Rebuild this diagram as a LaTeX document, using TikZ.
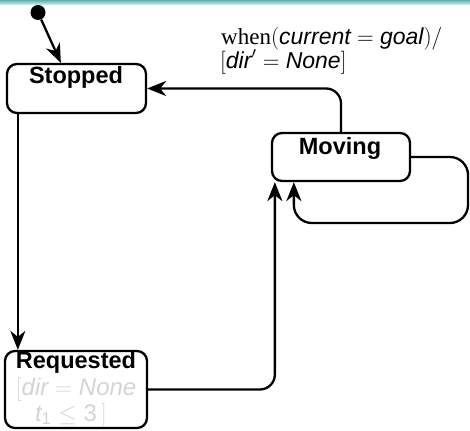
\documentclass[tikz,border=0pt]{standalone}
\usepackage{fix-cm}
\usepackage{amsmath}
\usepackage{fontspec}
\setmainfont{Liberation Serif}
\setsansfont{Liberation Sans}
\usetikzlibrary{arrows.meta}

% sans italic variable names inside formulas
\newcommand\svar[1]{\textsf{\itshape #1}}

\definecolor{bandtop}{HTML}{5FAFB2}
\definecolor{bandbot}{HTML}{D2ECEC}
\definecolor{guardgray}{HTML}{D4D4D4}

\begin{document}
\begin{tikzpicture}[x=1pt,y=-1pt,
  statebox/.style={draw, line width=2.3pt, rounded corners=10pt, inner sep=0pt},
  statename/.style={anchor=base, inner sep=0pt, font=\fontsize{23.5}{26}\selectfont\sffamily\bfseries},
  guard/.style={anchor=base, inner sep=0pt, text=guardgray, font=\fontsize{24}{26}\selectfont},
  edgelabel/.style={anchor=base west, inner sep=0pt, font=\fontsize{23}{25}\selectfont},
  flow/.style={line width=2.3pt, rounded corners=15pt,
    -{Stealth[length=19pt,width=15pt,inset=6pt]}},
]
\useasboundingbox (0,0) rectangle (470,430);

% shaded strip along the top edge
\shade[top color=bandtop, bottom color=bandbot] (0,0) rectangle (470,4.5);

% states
\node[statebox, minimum width=139pt, minimum height=49pt] (stopped) at (76.5,88.5) {};
\node[statebox, minimum width=138pt, minimum height=48pt] (moving) at (341,157) {};
\node[statebox, minimum width=142pt, minimum height=77pt] (requested) at (76,389.5) {};

\node[statename] (stoppedname) at (76,84) {Stopped};
\node[statename] (movingname) at (340,155) {Moving};
\node[statename] (requestedname) at (76,368) {Requested};
\node[guard] (guard1) at (76,395) {$[\svar{dir}=\svar{None}$};
\node[guard] (guard2) at (71,421) {$\svar{t}_{\textsf{1}}\leq\textsf{3}\,]$};

% initial pseudo-state
\fill (38,12.5) circle (7.5pt);
\node[circle, minimum size=15pt, inner sep=0pt] (init) at (38,12.5) {};

% corner of the self-loop on Moving
\coordinate (loopcorner) at (468,223);

% transitions
\draw[flow] (init) -- ([xshift=55pt]stopped.north west);
\draw[flow] ([xshift=12pt]stopped.south west) -- ([xshift=14pt]requested.north west);
\draw[flow] (moving.north) |- (stopped.east);
\draw[flow] (requested.east) -| ([xshift=4pt]moving.south west);
\draw[flow, rounded corners=18pt] (moving.east) -| (loopcorner) -| ([xshift=23pt]moving.south west);

% label of Moving -> Stopped
\node[edgelabel] (when1) at (221,45) {when$(\svar{current}=\svar{goal})/$};
\node[edgelabel] (when2) at (220,69) {$[\svar{dir}'=\svar{None}]$};
\end{tikzpicture}
\end{document}
